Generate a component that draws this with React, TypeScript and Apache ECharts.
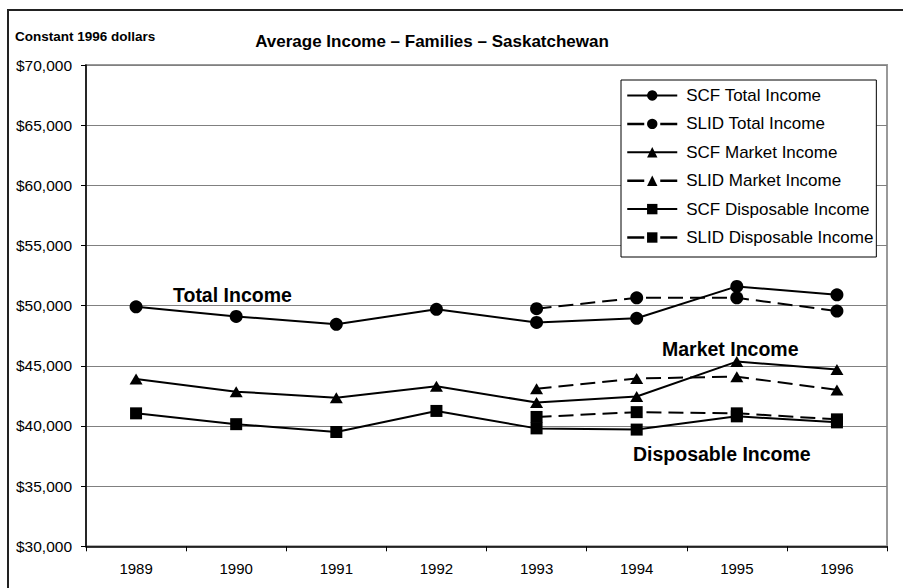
import React, { useEffect, useRef } from "react";
import * as echarts from "echarts";

const years = ["1989", "1990", "1991", "1992", "1993", "1994", "1995", "1996"];
const scfTotal = [49900, 49100, 48450, 49700, 48600, 48950, 51600, 50900];
const slidTotal = [null, null, null, null, 49750, 50650, 50650, 49550];
const scfMarket = [43900, 42850, 42350, 43300, 41950, 42450, 45350, 44700];
const slidMarket = [null, null, null, null, 43100, 43950, 44100, 43000];
const scfDisp = [41050, 40150, 39500, 41250, 39800, 39700, 40800, 40300];
const slidDisp = [null, null, null, null, 40750, 41150, 41050, 40550];
const seriesNames = [
  "SCF Total Income",
  "SLID Total Income",
  "SCF Market Income",
  "SLID Market Income",
  "SCF Disposable Income",
  "SLID Disposable Income",
];
const FONT = "'Liberation Sans', Arial, Helvetica, sans-serif";

export default function App() {
  const ref = useRef<HTMLDivElement>(null);
  useEffect(() => {
    if (!ref.current) return;
    const chart = echarts.init(ref.current, null, { renderer: "svg" });
    const mk = (name: string, data: any[], symbol: string, size: any, dashed: boolean) => ({
      name,
      type: "line",
      data,
      symbol,
      symbolSize: size,
      showSymbol: true,
      connectNulls: false,
      color: "#000",
      itemStyle: { color: "#000" },
      lineStyle: { color: "#000", width: 2, type: dashed ? [15, 7] : "solid" },
      z: dashed ? 3 : 2,
    });
    const legendData = seriesNames.map((n, i) => ({
      name: n,
      lineStyle:
        i % 2 === 1
          ? { width: 2.5, color: "#000", type: [17, 16] }
          : { width: 2, color: "#000", type: "solid" },
    }));
    chart.setOption({
      animation: false,
      backgroundColor: "#fff",
      textStyle: { fontFamily: FONT },
      grid: {
        left: 86,
        right: 16,
        top: 65,
        bottom: 41.7,
        show: true,
        borderColor: "#999",
        borderWidth: 2,
        backgroundColor: "transparent",
      },
      xAxis: {
        type: "category",
        data: years,
        boundaryGap: true,
        axisLine: { lineStyle: { color: "#000", width: 1.5 } },
        axisTick: { show: true, interval: 0, alignWithLabel: false, length: 5, lineStyle: { color: "#000" } },
        axisLabel: { color: "#000", fontSize: 15, fontFamily: FONT, margin: 15, interval: 0 },
        splitLine: { show: false },
      },
      yAxis: {
        type: "value",
        min: 30000,
        max: 70000,
        interval: 5000,
        axisLine: { show: true, lineStyle: { color: "#000", width: 1.5 } },
        axisTick: { show: true, length: 5, lineStyle: { color: "#000" } },
        axisLabel: {
          color: "#000",
          fontSize: 15.5,
          fontFamily: FONT,
          margin: 14,
          formatter: (v: number) => "$" + v.toLocaleString("en-US"),
        },
        splitLine: { show: true, lineStyle: { color: "#808080", width: 1 } },
      },
      legend: {
        data: legendData,
        orient: "vertical",
        left: 621,
        top: 80,
        padding: [7, 3, 11, 5],
        itemWidth: 50,
        itemHeight: 13,
        itemGap: 11.4,
        selectedMode: false,
        backgroundColor: "#fff",
        borderColor: "#000",
        borderWidth: 1,
        lineStyle: { width: 2, color: "#000" },
        textStyle: { color: "#000", fontSize: 17, fontFamily: FONT, lineHeight: 17, padding: [0, 0, 0, 4] },
        z: 10,
      },
      graphic: [
        {
          type: "rect",
          shape: { x: 8, y: 10, width: 1000, height: 1000 },
          style: { fill: "none", stroke: "#222", lineWidth: 2 },
          silent: true,
        },
        {
          type: "text",
          x: 15,
          y: 36,
          style: {
            text: "Constant 1996 dollars",
            font: `bold 13.5px ${FONT}`,
            fill: "#000",
            textAlign: "left",
            textVerticalAlign: "middle",
          },
        },
        {
          type: "text",
          x: 432,
          y: 41,
          style: {
            text: "Average Income \u2013 Families \u2013 Saskatchewan",
            font: `bold 17px ${FONT}`,
            fill: "#000",
            textAlign: "center",
            textVerticalAlign: "middle",
          },
        },
        {
          type: "text",
          x: 173,
          y: 295,
          z: 20,
          style: { text: "Total Income", font: `bold 19.5px ${FONT}`, fill: "#000", textAlign: "left", textVerticalAlign: "middle" },
        },
        {
          type: "text",
          x: 662,
          y: 349,
          z: 20,
          style: { text: "Market Income", font: `bold 19.5px ${FONT}`, fill: "#000", textAlign: "left", textVerticalAlign: "middle" },
        },
        {
          type: "text",
          x: 633,
          y: 454,
          z: 20,
          style: { text: "Disposable Income", font: `bold 19.5px ${FONT}`, fill: "#000", textAlign: "left", textVerticalAlign: "middle" },
        },
      ],
      series: [
        mk(seriesNames[0], scfTotal, "circle", 13, false),
        mk(seriesNames[1], slidTotal, "circle", 13, true),
        mk(seriesNames[2], scfMarket, "triangle", [13, 11], false),
        mk(seriesNames[3], slidMarket, "triangle", [13, 11], true),
        mk(seriesNames[4], scfDisp, "rect", 12, false),
        mk(seriesNames[5], slidDisp, "rect", 12, true),
      ],
    });
    return () => chart.dispose();
  }, []);
  return (
    <div
      ref={ref}
      style={{ position: "absolute", left: 0, top: 0, width: 903, height: 588, background: "#fff" }}
    />
  );
}
